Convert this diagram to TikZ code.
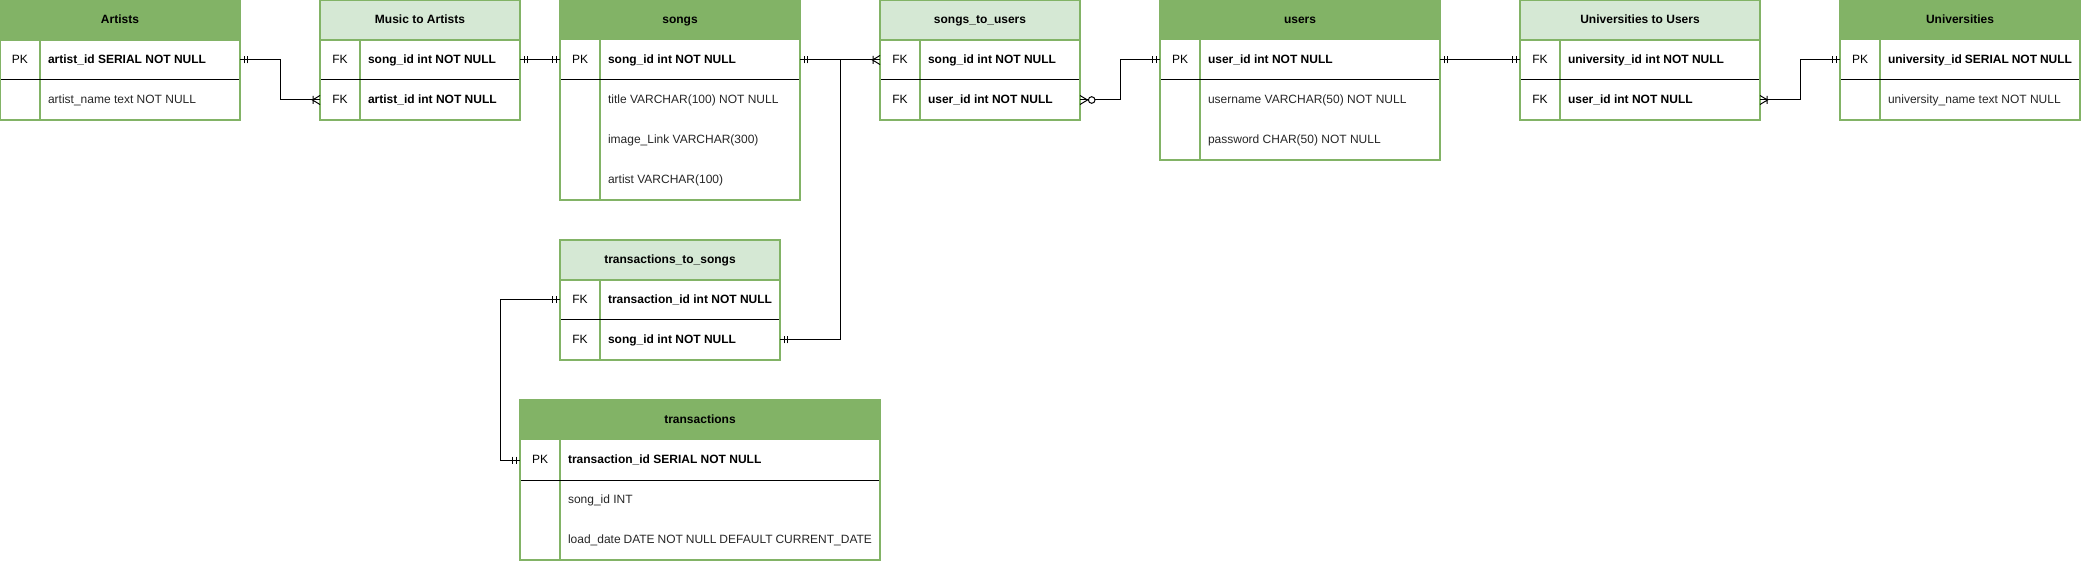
\documentclass[tikz,border=0pt]{standalone}
\usepackage{fontspec}
\setmainfont{Liberation Sans}
\definecolor{hdrgreen}{HTML}{82B366}
\definecolor{lgreen}{HTML}{D5E8D4}

\begin{document}
\begin{tikzpicture}[x=1pt,y=-1pt,
        hdr/.style={fill=hdrgreen,minimum width=#1,minimum height=40pt,inner sep=0pt,outer sep=0pt,anchor=north west,
            text height=8.6pt,text depth=2pt,font=\large\bfseries},
        lhdr/.style={hdr=#1,fill=lgreen},
        keycell/.style={minimum width=40pt,minimum height=40pt,inner sep=0pt,outer sep=0pt,anchor=north west,
            text height=8.6pt,text depth=2pt,font=\large},
        fieldcell/.style={inner xsep=8pt,inner ysep=0pt,outer sep=0pt,minimum height=40pt,anchor=north west,
            text height=8.6pt,text depth=2pt,font=\large,text=black!85,
            execute at begin node={\hbox to #1\bgroup},execute at end node={\hfil\egroup}},
        keyfield/.style={fieldcell=#1,font=\large\bfseries,text=black},
        tblframe/.style={draw=hdrgreen,line width=1.2pt},
        keyline/.style={draw=black,line width=1pt},
        rel/.style={draw=black,line width=1pt},
        mone/.pic={\draw[rel] (-4,-3.5) -- (-4,3.5) (-7.5,-3.5) -- (-7.5,3.5);},
        cmany/.pic={\draw[rel] (0,-4.5) -- (-7.5,0) -- (0,4.5) (-7,-4) -- (-7,4);},
        zmany/.pic={\draw[rel] (0,-4.5) -- (-7.5,0) -- (0,4.5);
                    \draw[rel,fill=white] (-11.7,0) circle[radius=3.3];}]
    \useasboundingbox (0,0) rectangle (2081,561);

    % Artists
    \node[hdr=240pt]           (artists)    at (0,0)   {Artists};
    \node[keycell]             (artists-k1) at (0,40)  {PK};
    \node[keyfield=184pt]      (artists-r1) at (40,40) {artist\_id SERIAL NOT NULL};
    \node[keycell]             (artists-k2) at (0,80)  {};
    \node[fieldcell=184pt]     (artists-r2) at (40,80) {artist\_name text NOT NULL};
    \draw[tblframe] (artists-k1.north east) -- (artists-k2.south east);
    \draw[keyline]  (artists-k1.south west) -- (artists-r1.south east);
    \draw[tblframe] (artists.south west) -- (artists.south east);
    \draw[tblframe] (artists.north west) rectangle (artists-r2.south east);

    % Music to Artists
    \node[lhdr=200pt]          (mta)    at (320,0)  {Music to Artists};
    \node[keycell]             (mta-k1) at (320,40) {FK};
    \node[keyfield=144pt]      (mta-r1) at (360,40) {song\_id int NOT NULL};
    \node[keycell]             (mta-k2) at (320,80) {FK};
    \node[keyfield=144pt]      (mta-r2) at (360,80) {artist\_id int NOT NULL};
    \draw[tblframe] (mta-k1.north east) -- (mta-k2.south east);
    \draw[keyline]  (mta-k1.south west) -- (mta-r1.south east);
    \draw[tblframe] (mta.south west) -- (mta.south east);
    \draw[tblframe] (mta.north west) rectangle (mta-r2.south east);

    % songs
    \node[hdr=240pt]           (songs)    at (560,0)   {songs};
    \node[keycell]             (songs-k1) at (560,40)  {PK};
    \node[keyfield=184pt]      (songs-r1) at (600,40)  {song\_id int NOT NULL};
    \node[fieldcell=184pt]     (songs-r2) at (600,80)  {title VARCHAR(100) NOT NULL};
    \node[fieldcell=184pt]     (songs-r3) at (600,120) {image\_Link VARCHAR(300)};
    \node[fieldcell=184pt]     (songs-r4) at (600,160) {artist VARCHAR(100)};
    \draw[tblframe] (songs-k1.north east) -- (songs-r4.south west);
    \draw[keyline]  (songs-k1.south west) -- (songs-r1.south east);
    \draw[tblframe] (songs.north west) rectangle (songs-r4.south east);

    % songs_to_users
    \node[lhdr=200pt]          (stu)    at (880,0)  {songs\_to\_users};
    \node[keycell]             (stu-k1) at (880,40) {FK};
    \node[keyfield=144pt]      (stu-r1) at (920,40) {song\_id int NOT NULL};
    \node[keycell]             (stu-k2) at (880,80) {FK};
    \node[keyfield=144pt]      (stu-r2) at (920,80) {user\_id int NOT NULL};
    \draw[tblframe] (stu-k1.north east) -- (stu-k2.south east);
    \draw[keyline]  (stu-k1.south west) -- (stu-r1.south east);
    \draw[tblframe] (stu.south west) -- (stu.south east);
    \draw[tblframe] (stu.north west) rectangle (stu-r2.south east);

    % users
    \node[hdr=280pt]           (users)    at (1160,0)   {users};
    \node[keycell]             (users-k1) at (1160,40)  {PK};
    \node[keyfield=224pt]      (users-r1) at (1200,40)  {user\_id int NOT NULL};
    \node[fieldcell=224pt]     (users-r2) at (1200,80)  {username VARCHAR(50) NOT NULL};
    \node[fieldcell=224pt]     (users-r3) at (1200,120) {password CHAR(50) NOT NULL};
    \draw[tblframe] (users-k1.north east) -- (users-r3.south west);
    \draw[keyline]  (users-k1.south west) -- (users-r1.south east);
    \draw[tblframe] (users.north west) rectangle (users-r3.south east);

    % Universities to Users
    \node[lhdr=240pt]          (utu)    at (1520,0)  {Universities to Users};
    \node[keycell]             (utu-k1) at (1520,40) {FK};
    \node[keyfield=184pt]      (utu-r1) at (1560,40) {university\_id int NOT NULL};
    \node[keycell]             (utu-k2) at (1520,80) {FK};
    \node[keyfield=184pt]      (utu-r2) at (1560,80) {user\_id int NOT NULL};
    \draw[tblframe] (utu-k1.north east) -- (utu-k2.south east);
    \draw[keyline]  (utu-k1.south west) -- (utu-r1.south east);
    \draw[tblframe] (utu.south west) -- (utu.south east);
    \draw[tblframe] (utu.north west) rectangle (utu-r2.south east);

    % Universities
    \node[hdr=240pt]           (univ)    at (1840,0)  {Universities};
    \node[keycell]             (univ-k1) at (1840,40) {PK};
    \node[keyfield=184pt]      (univ-r1) at (1880,40) {university\_id SERIAL NOT NULL};
    \node[keycell]             (univ-k2) at (1840,80) {};
    \node[fieldcell=184pt]     (univ-r2) at (1880,80) {university\_name text NOT NULL};
    \draw[tblframe] (univ-k1.north east) -- (univ-k2.south east);
    \draw[keyline]  (univ-k1.south west) -- (univ-r1.south east);
    \draw[tblframe] (univ.north west) rectangle (univ-r2.south east);

    % transactions_to_songs
    \node[lhdr=220pt]          (tts)    at (560,240) {transactions\_to\_songs};
    \node[keycell]             (tts-k1) at (560,280) {FK};
    \node[keyfield=164pt]      (tts-r1) at (600,280) {transaction\_id int NOT NULL};
    \node[keycell]             (tts-k2) at (560,320) {FK};
    \node[keyfield=164pt]      (tts-r2) at (600,320) {song\_id int NOT NULL};
    \draw[tblframe] (tts-k1.north east) -- (tts-k2.south east);
    \draw[keyline]  (tts-k1.south west) -- (tts-r1.south east);
    \draw[tblframe] (tts.south west) -- (tts.south east);
    \draw[tblframe] (tts.north west) rectangle (tts-r2.south east);

    % transactions
    \node[hdr=360pt]           (trans)    at (520,400) {transactions};
    \node[keycell]             (trans-k1) at (520,440) {PK};
    \node[keyfield=304pt]      (trans-r1) at (560,440) {transaction\_id SERIAL NOT NULL};
    \node[fieldcell=304pt]     (trans-r2) at (560,480) {song\_id INT};
    \node[fieldcell=304pt]     (trans-r3) at (560,520) {load\_date DATE NOT NULL DEFAULT CURRENT\_DATE};
    \draw[tblframe] (trans-k1.north east) -- (trans-r3.south west);
    \draw[keyline]  (trans-k1.south west) -- (trans-r1.south east);
    \draw[tblframe] (trans.north west) rectangle (trans-r3.south east);

    % relations
    \draw[rel] (artists-r1.east) -- ++(40,0) |- (mta-k2.west);
    \draw[rel] (mta-r1.east) -- (songs-k1.west);
    \draw[rel] (songs-r1.east) -- (stu-k1.west);
    \draw[rel] (songs-r1.east) -- ++(40,0) |- (tts-r2.east);
    \draw[rel] (stu-r2.east) -- ++(40,0) |- (users-k1.west);
    \draw[rel] (users-r1.east) -- (utu-k1.west);
    \draw[rel] (utu-r2.east) -- ++(40,0) |- (univ-k1.west);
    \draw[rel] (tts-k1.west) -- ++(-60,0) |- (trans-k1.west);

    \pic[rotate=180] at (artists-r1.east) {mone};
    \pic             at (mta-k2.west)     {cmany};
    \pic[rotate=180] at (mta-r1.east)     {mone};
    \pic             at (songs-k1.west)   {mone};
    \pic[rotate=180] at (songs-r1.east)   {mone};
    \pic             at (stu-k1.west)     {cmany};
    \pic[rotate=180] at (tts-r2.east)     {mone};
    \pic[rotate=180] at (stu-r2.east)     {zmany};
    \pic             at (users-k1.west)   {mone};
    \pic[rotate=180] at (users-r1.east)   {mone};
    \pic             at (utu-k1.west)     {mone};
    \pic[rotate=180] at (utu-r2.east)     {cmany};
    \pic             at (univ-k1.west)    {mone};
    \pic             at (tts-k1.west)     {mone};
    \pic             at (trans-k1.west)   {mone};
\end{tikzpicture}
\end{document}
